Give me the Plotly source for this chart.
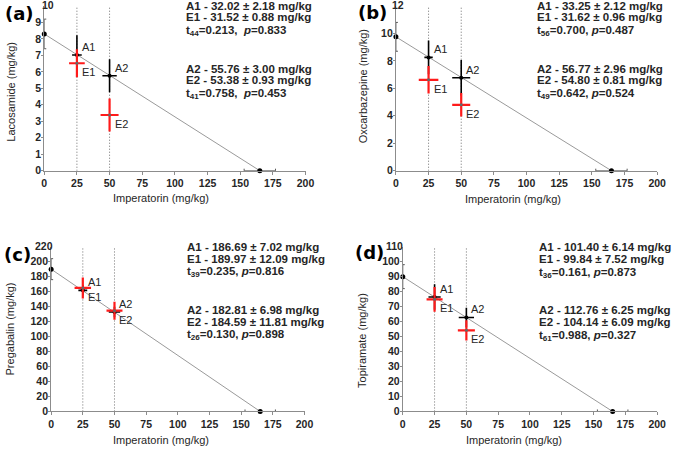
import plotly.graph_objects as go

W, H = 676, 453

panel_labels = ["(a)", "(b)", "(c)", "(d)"]
drug_titles = ["Lacosamide (mg/kg)", "Oxcarbazepine (mg/kg)", "Pregabalin (mg/kg)", "Topiramate (mg/kg)"]
x_title = "Imperatorin (mg/kg)"

# ED50 values (end points of the additivity line)
imperatorin_ed50 = 165.0
imperatorin_ed50_err = 12.0
drug_ed50 = [8.3, 9.75, 190.0, 90.0]
drug_ed50_err = [0.9, 1.05, 14.0, 8.0]

# fixed imperatorin doses
imp_doses = [25, 50]

# additive (A) points: drug dose and errors
A_y = [[7.02, 5.76], [8.25, 6.77], [161.69, 132.81], [76.40, 62.76]]
A_xerr = [[3.7, 5.5], [3.2, 6.9], [3.5, 4.5], [4.8, 6.0]]
A_yerr = [[1.2, 1.0], [1.23, 1.3], [7.0, 7.0], [8.5, 6.5]]

# experimental (E) points
E_y = [[6.52, 3.38], [6.62, 4.80], [164.97, 134.59], [74.84, 54.14]]
E_xerr = [[6.0, 6.9], [7.5, 6.9], [6.5, 6.3], [6.3, 6.7]]
E_yerr = [[0.85, 1.0], [1.0, 0.85], [14.0, 12.0], [8.3, 6.8]]

y_max = [10, 12, 220, 110]
y_dtick = [1, 2, 20, 10]
x_ticks = [0, 25, 50, 75, 100, 125, 150, 175, 200]

stats_text = [
    ["A1 - 32.02 ± 2.18 mg/kg", "E1 - 31.52 ± 0.88 mg/kg", "t<sub>44</sub>=0.213,&nbsp; <i>p</i>=0.833",
     "A2 - 55.76 ± 3.00 mg/kg", "E2 - 53.38 ± 0.93 mg/kg", "t<sub>41</sub>=0.758,&nbsp; <i>p</i>=0.453"],
    ["A1 - 33.25 ± 2.12 mg/kg", "E1 - 31.62 ± 0.96 mg/kg", "t<sub>56</sub>=0.700, <i>p</i>=0.487",
     "A2 - 56.77 ± 2.96 mg/kg", "E2 - 54.80 ± 0.81 mg/kg", "t<sub>49</sub>=0.642, <i>p</i>=0.524"],
    ["A1 - 186.69 ± 7.02 mg/kg", "E1 - 189.97 ± 12.09 mg/kg", "t<sub>39</sub>=0.235, <i>p</i>=0.816",
     "A2 - 182.81 ± 6.98 mg/kg", "E2 - 184.59 ± 11.81 mg/kg", "t<sub>26</sub>=0.130, <i>p</i>=0.898"],
    ["A1 - 101.40 ± 6.14 mg/kg", "E1 - 99.84 ± 7.52 mg/kg", "t<sub>36</sub>=0.161, <i>p</i>=0.873",
     "A2 - 112.76 ± 6.25 mg/kg", "E2 - 104.14 ± 6.09 mg/kg", "t<sub>61</sub>=0.988, <i>p</i>=0.327"],
]

# ---- layout geometry (pixels) ----
plot_boxes = [(42, 308, 6, 173), (400, 666, 6, 173), (49, 307, 250, 417), (407, 666, 250, 417)]
stats_left = [184, 542, 185, 544]
stats_y = [[6, 17.5, 31, 70, 81.5, 95], [6, 17.5, 31, 70, 81.5, 95],
           [250, 262, 276, 314, 326, 340], [250, 262, 277, 314, 326, 341]]
label_pos = [(17, 14), (376, 13), (15, 258), (373, 256)]
ytitle_pos = [(8, 93), (366, 88), (7, 333), (366, 345)]
xtitle_pos = [(161, 201), (519, 202), (161, 446), (520, 446)]
# top tick label drawn beside the panel label (as in the original figure)
top_tick_pos = [(46, 5), (402, 5), (42, 249), (399, 249)]

FONT = "Liberation Sans, Arial, sans-serif"
TXT = "#262626"
RED = "#ff1a1a"


def px(x):
    return x / W


def py(y):
    return 1 - y / H


fig = go.Figure()
annotations = []
layout = {}

for i in range(4):
    xa = "x" if i == 0 else f"x{i+1}"
    ya = "y" if i == 0 else f"y{i+1}"
    x0, x1, y0, y1 = plot_boxes[i]
    yt = list(range(0, y_max[i] + 1, y_dtick[i]))
    layout["xaxis" if i == 0 else f"xaxis{i+1}"] = dict(
        domain=[px(x0), px(x1)], range=[0, 200], anchor=ya,
        tickvals=x_ticks, ticks="outside", ticklen=3, tickcolor="#8c8c8c",
        showline=True, linecolor="#8c8c8c", linewidth=1, showgrid=False, zeroline=False,
        tickfont=dict(family=FONT, size=10.5, color=TXT, weight="bold"),
    )
    layout["yaxis" if i == 0 else f"yaxis{i+1}"] = dict(
        domain=[py(y1), py(y0)], range=[0, y_max[i]], anchor=xa,
        tickvals=yt[:-1], ticks="outside", ticklen=2, tickcolor="#8c8c8c",
        ticklabelstandoff=-2,
        showline=True, linecolor="#8c8c8c", linewidth=1, showgrid=False, zeroline=False,
        tickfont=dict(family=FONT, size=10.5, color=TXT, weight="bold"),
    )
    tx, ty = top_tick_pos[i]
    annotations.append(dict(x=px(tx), y=py(ty), xref="paper", yref="paper", text=str(yt[-1]),
                            showarrow=False, xanchor="center", yanchor="middle",
                            font=dict(family=FONT, size=10.5, color=TXT, weight="bold")))

    # vertical dotted reference lines at fixed doses
    for d in imp_doses:
        fig.add_trace(go.Scatter(x=[d, d], y=[0, y_max[i]], mode="lines", xaxis=xa, yaxis=ya,
                                 line=dict(color="#6e6e6e", width=1, dash="1px,2px"),
                                 showlegend=False, hoverinfo="skip"))

    # additivity line
    fig.add_trace(go.Scatter(x=[0, imperatorin_ed50], y=[drug_ed50[i], 0], mode="lines",
                             xaxis=xa, yaxis=ya, line=dict(color="#9a9a9a", width=1),
                             showlegend=False, hoverinfo="skip"))
    # end points with error bars
    fig.add_trace(go.Scatter(x=[0], y=[drug_ed50[i]], mode="markers", xaxis=xa, yaxis=ya,
                             marker=dict(color="black", size=5),
                             error_y=dict(type="data", array=[drug_ed50_err[i]], color="#555", thickness=1, width=2),
                             showlegend=False, hoverinfo="skip", cliponaxis=False))
    fig.add_trace(go.Scatter(x=[imperatorin_ed50], y=[0], mode="markers", xaxis=xa, yaxis=ya,
                             marker=dict(color="black", size=5),
                             error_x=dict(type="data", array=[imperatorin_ed50_err], color="#555", thickness=1, width=2),
                             showlegend=False, hoverinfo="skip", cliponaxis=False))

    # additive points (black)
    fig.add_trace(go.Scatter(x=imp_doses, y=A_y[i], mode="markers", xaxis=xa, yaxis=ya,
                             marker=dict(color="black", size=4),
                             error_x=dict(type="data", array=A_xerr[i], color="black", thickness=1.6, width=0),
                             error_y=dict(type="data", array=A_yerr[i], color="black", thickness=1.6, width=0),
                             showlegend=False, hoverinfo="skip"))
    # experimental points (red)
    fig.add_trace(go.Scatter(x=imp_doses, y=E_y[i], mode="markers", xaxis=xa, yaxis=ya,
                             marker=dict(color="#666", size=3),
                             error_x=dict(type="data", array=E_xerr[i], color=RED, thickness=2.2, width=0),
                             error_y=dict(type="data", array=E_yerr[i], color=RED, thickness=2.2, width=0),
                             showlegend=False, hoverinfo="skip"))

    # point labels
    for k, d in enumerate(imp_doses):
        annotations.append(dict(x=d, y=A_y[i][k], xref=xa, yref=ya, text=f"A{k+1}", showarrow=False,
                                xanchor="left", yanchor="middle", xshift=3, yshift=8,
                                font=dict(family=FONT, size=11, color=TXT)))
        annotations.append(dict(x=d, y=E_y[i][k], xref=xa, yref=ya, text=f"E{k+1}", showarrow=False,
                                xanchor="left", yanchor="middle", xshift=3, yshift=-9,
                                font=dict(family=FONT, size=11, color=TXT)))

    # statistics text
    for j, t in enumerate(stats_text[i]):
        annotations.append(dict(x=px(stats_left[i]), y=py(stats_y[i][j]), xref="paper", yref="paper",
                                text=t, showarrow=False, xanchor="left", yanchor="middle",
                                font=dict(family=FONT, size=11.5, color=TXT, weight="bold")))

    # panel label
    lx, ly = label_pos[i]
    annotations.append(dict(x=px(lx), y=py(ly), xref="paper", yref="paper", text=panel_labels[i],
                            showarrow=False, xanchor="center", yanchor="middle",
                            font=dict(family="DejaVu Sans, sans-serif", size=18, color="black", weight="bold")))
    # axis titles
    tx, ty = ytitle_pos[i]
    annotations.append(dict(x=px(tx), y=py(ty), xref="paper", yref="paper", text=drug_titles[i],
                            showarrow=False, textangle=-90, xanchor="center", yanchor="middle",
                            font=dict(family=FONT, size=11, color=TXT)))
    tx, ty = xtitle_pos[i]
    annotations.append(dict(x=px(tx), y=py(ty), xref="paper", yref="paper", text=x_title,
                            showarrow=False, xanchor="center", yanchor="middle",
                            font=dict(family=FONT, size=11, color=TXT)))

fig.update_layout(
    width=W, height=H, margin=dict(l=0, r=0, t=0, b=0),
    paper_bgcolor="white", plot_bgcolor="white", showlegend=False,
    annotations=annotations, **layout,
)

fig.write_html("out.html")
